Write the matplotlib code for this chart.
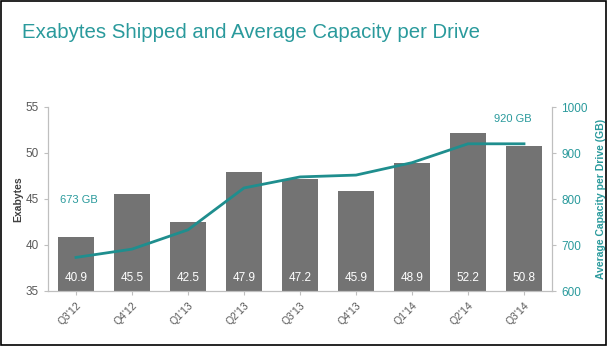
import matplotlib
matplotlib.use("Agg")
import matplotlib.pyplot as plt
import numpy as np

plt.rcParams["font.family"] = ["Liberation Sans", "DejaVu Sans"]

# Chart data
quarters = ["Q3'12", "Q4'12", "Q1'13", "Q2'13", "Q3'13", "Q4'13", "Q1'14", "Q2'14", "Q3'14"]
exabytes = [40.9, 45.5, 42.5, 47.9, 47.2, 45.9, 48.9, 52.2, 50.8]
capacity_gb = [673, 691, 733, 824, 848, 852, 879, 920, 920]

teal = "#2a9a9c"
line_teal = "#1f8e8e"
bar_gray = "#737373"
axis_gray = "#bfbfbf"
text_gray = "#595959"

fig = plt.figure(figsize=(6.07, 3.46), dpi=100)
fig.patch.set_facecolor("white")

fig.text(22 / 607, 1 - 32 / 346, "Exabytes Shipped and Average Capacity per Drive",
         color=teal, fontsize=14.7, va="center", ha="left")

ax = fig.add_axes([48 / 607, 1 - 291 / 346, 504 / 607, 184 / 346])
x = np.arange(len(quarters))
ax.bar(x, exabytes, width=0.64, color=bar_gray, zorder=2)
ax.set_ylim(35, 55)
ax.set_xlim(-0.5, len(quarters) - 0.5)
ax.set_yticks([35, 40, 45, 50, 55])
ax.set_xticks(x)
ax.set_xticklabels(quarters, rotation=45, ha="right", rotation_mode="anchor",
                   fontsize=7.5, color=text_gray)
ax.tick_params(axis="y", labelsize=8.5, colors=axis_gray, labelcolor=text_gray,
               length=3, width=0.8)
ax.tick_params(axis="x", length=3, colors=axis_gray, labelcolor=text_gray)
ax.set_ylabel("Exabytes", fontsize=7.5, fontweight="bold", color="#404040", labelpad=2)
ax.spines["top"].set_visible(False)
for s in ["left", "right", "bottom"]:
    ax.spines[s].set_color(axis_gray)
    ax.spines[s].set_linewidth(0.8)

for xi, v in zip(x, exabytes):
    ax.text(xi, 36.4, f"{v}", ha="center", va="center", color="white", fontsize=8.5, zorder=3)

ax2 = ax.twinx()
ax2.plot(x, capacity_gb, color=line_teal, linewidth=2, zorder=4)
ax2.set_ylim(600, 1000)
ax2.set_yticks([600, 700, 800, 900, 1000])
ax2.tick_params(axis="y", labelsize=8.5, colors=axis_gray, labelcolor=teal,
                length=3, width=0.8)
ax2.set_ylabel("Average Capacity per Drive (GB)", fontsize=7.5, fontweight="bold",
               color=teal, labelpad=6)
ax2.spines["top"].set_visible(False)
for s in ["left", "right", "bottom"]:
    ax2.spines[s].set_color(axis_gray)
    ax2.spines[s].set_linewidth(0.8)

ax2.annotate(f"{capacity_gb[0]} GB", xy=(x[0], capacity_gb[0]), xytext=(x[0] + 0.05, 797),
             textcoords="data", ha="center", va="center", color=teal, fontsize=8)
ax2.annotate(f"{capacity_gb[-1]} GB", xy=(x[-1], capacity_gb[-1]), xytext=(x[-1] - 0.2, 975),
             textcoords="data", ha="center", va="center", color=teal, fontsize=8)

# outer frame
fig.add_artist(plt.Rectangle((0.002, 0.003), 0.996, 0.994, transform=fig.transFigure,
                             fill=False, edgecolor="black", linewidth=1.2))

fig.savefig("out.png", dpi=100)
